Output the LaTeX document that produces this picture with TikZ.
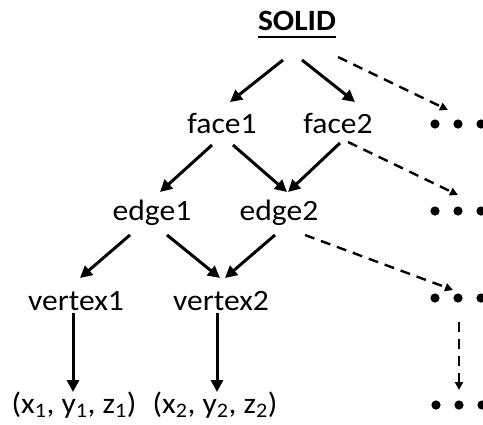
\documentclass[tikz,border=0pt]{standalone}
\usepackage{fontspec}
\setmainfont[FakeStretch=1.07]{Carlito}
\usepackage{tikz}
\usetikzlibrary{arrows.meta,calc}
\tikzset{
  lbl/.style={anchor=base,inner sep=0pt,font=\fontsize{29.5}{34}\selectfont},
  arr/.style={line width=3pt,-{Triangle[length=12pt,width=12pt]}},
  darr/.style={line width=2.4pt,dash pattern=on 10pt off 7pt,-{Triangle[length=8pt,width=8pt]}},
  dotrow/.style={inner sep=0pt,minimum size=0pt}
}

\begin{document}
\begin{tikzpicture}[x=1pt,y=-1pt]
\useasboundingbox (0,0) rectangle (483,424);
\node[lbl] (solid) at (297,30) {\textbf{SOLID}};
\draw[line width=2pt] ([yshift=-7pt]solid.base west) -- ([yshift=-7pt]solid.base east);
\node[lbl] (face1) at (222,133) {face1};
\node[lbl] (face2) at (338,133) {face2};
\node[lbl] (edge1) at (152,220) {edge1};
\node[lbl] (edge2) at (279,220) {edge2};
\node[lbl] (vertex1) at (76,310) {vertex1};
\node[lbl] (vertex2) at (221,310) {vertex2};
\node[lbl] (pt1) at (74,413) {(x\textsubscript{1}, y\textsubscript{1}, z\textsubscript{1})};
\node[lbl] (pt2) at (215,413) {(x\textsubscript{2}, y\textsubscript{2}, z\textsubscript{2})};
% rows of dots for the omitted entities
\node[dotrow] (more1) at (458,124) {};
\node[dotrow] (more2) at (458,211) {};
\node[dotrow] (more3) at (458,298) {};
\node[dotrow] (more4) at (459,405) {};
\foreach \m in {more1,more2,more3,more4} {\foreach \dx in {-23,0,23} {\fill ($(\m)+(\dx,0)$) circle (4.6pt);}}
% solid arrows
\draw[arr] ($(solid.base)+(-14,30)$) -- ($(face1.base)+(8,-31)$);
\draw[arr] ($(solid.base)+(5,30)$) -- ($(face2.base)+(17,-31)$);
\draw[arr] ($(face1.base)+(-10,12)$) -- ($(edge1.base)+(8,-28)$);
\draw[arr] ($(face1.base)+(11,12)$) -- ($(edge2.base)+(8,-28)$);
\draw[arr] ($(face2.base)+(2,10)$) -- ($(edge2.base)+(9,-28)$);
\draw[arr] ($(edge1.base)+(-22,15)$) -- ($(vertex1.base)+(4,-32)$);
\draw[arr] ($(edge1.base)+(15,15)$) -- ($(vertex2.base)+(-1,-32)$);
\draw[arr] ($(edge2.base)+(-4,15)$) -- ($(vertex2.base)+(4,-32)$);
\draw[arr] ($(vertex1.base)+(-3,3)$) -- ($(pt1.base)+(-1,-21)$);
\draw[arr] ($(vertex2.base)+(-4,3)$) -- ($(pt2.base)+(2,-21)$);
% dashed arrows
\draw[darr] ($(solid.base)+(41,27)$) -- ($(more1)+(-10,-14)$);
\draw[darr] ($(face2.base)+(10,9)$) -- ($(more2)+(0,-16)$);
\draw[darr] ($(edge2.base)+(26,15)$) -- ($(more3)+(-5,-8)$);
\draw[darr] ($(more3)+(1,24)$) -- ($(more4)+(0,-15)$);
\end{tikzpicture}
\end{document}
